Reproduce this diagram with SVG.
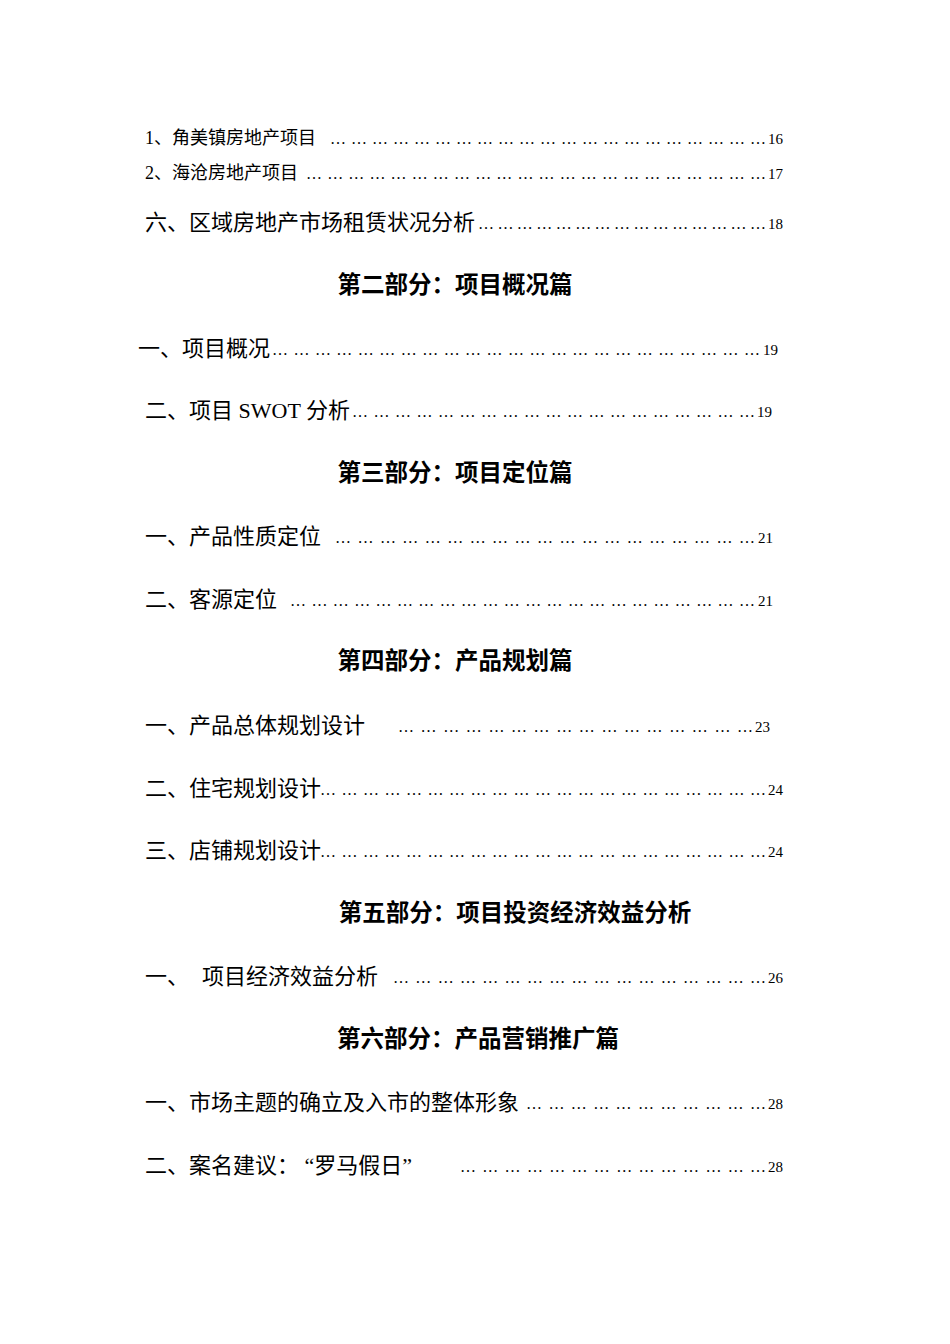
<svg xmlns="http://www.w3.org/2000/svg" width="950" height="1344" viewBox="0 0 950 1344">
<style>
text{font-family:"Liberation Serif","Noto Sans CJK SC",serif;fill:#000}
.s{font-size:18px}
.m{font-size:22px}
.n{font-size:15px}
.h{font-size:23.5px;font-weight:bold;text-anchor:middle}
.d{font-size:16px}
</style>
<rect width="950" height="1344" fill="#fff"/>
<g id="toc">
<text class="s" x="145" y="144">1、角美镇房地产项目</text><text class="d" x="330" y="144" textLength="436" lengthAdjust="spacing">………………………………………………………</text><text class="n" x="768" y="144">16</text>
<text class="s" x="145" y="179">2、海沧房地产项目</text><text class="d" x="306" y="179" textLength="460" lengthAdjust="spacing">…………………………………………………………</text><text class="n" x="768" y="179">17</text>
<text class="m" x="145" y="230">六、区域房地产市场租赁状况分析</text><text class="d" x="478" y="229" textLength="288" lengthAdjust="spacing">………………………………………</text><text class="n" x="768" y="229">18</text>
<text class="h" x="455" y="293">第二部分：项目概况篇</text>
<text class="m" x="138" y="356">一、项目概况</text><text class="d" x="272" y="355" textLength="488" lengthAdjust="spacing">……………………………………………………………</text><text class="n" x="763" y="355">19</text>
<text class="m" x="145" y="418">二、项目 SWOT 分析</text><text class="d" x="352" y="417" textLength="403" lengthAdjust="spacing">…………………………………………………</text><text class="n" x="757" y="417">19</text>
<text class="h" x="455" y="481">第三部分：项目定位篇</text>
<text class="m" x="145" y="544">一、产品性质定位</text><text class="d" x="335" y="543" textLength="420" lengthAdjust="spacing">…………………………………………………</text><text class="n" x="758" y="543">21</text>
<text class="m" x="145" y="607">二、客源定位</text><text class="d" x="290" y="606" textLength="465" lengthAdjust="spacing">…………………………………………………………</text><text class="n" x="758" y="606">21</text>
<text class="h" x="455" y="669">第四部分：产品规划篇</text>
<text class="m" x="145" y="733">一、产品总体规划设计</text><text class="d" x="398" y="732" textLength="355" lengthAdjust="spacing">…………………………………………</text><text class="n" x="755" y="732">23</text>
<text class="m" x="145" y="796">二、住宅规划设计</text><text class="d" x="320" y="795" textLength="446" lengthAdjust="spacing">………………………………………………………</text><text class="n" x="768" y="795">24</text>
<text class="m" x="145" y="858">三、店铺规划设计</text><text class="d" x="320" y="857" textLength="446" lengthAdjust="spacing">………………………………………………………</text><text class="n" x="768" y="857">24</text>
<text class="h" x="515" y="921">第五部分：项目投资经济效益分析</text>
<text class="m" x="145" y="984">一、</text><text class="m" x="202" y="984">项目经济效益分析</text><text class="d" x="393" y="983" textLength="373" lengthAdjust="spacing">……………………………………………</text><text class="n" x="768" y="983">26</text>
<text class="h" x="478" y="1047">第六部分：产品营销推广篇</text>
<text class="m" x="145" y="1110">一、市场主题的确立及入市的整体形象</text><text class="d" x="526" y="1109" textLength="240" lengthAdjust="spacing">……………………………</text><text class="n" x="768" y="1109">28</text>
<text class="m" x="145" y="1173">二、案名建议：  “罗马假日”</text><text class="d" x="460" y="1172" textLength="306" lengthAdjust="spacing">……………………………………</text><text class="n" x="768" y="1172">28</text>
</g>
</svg>
